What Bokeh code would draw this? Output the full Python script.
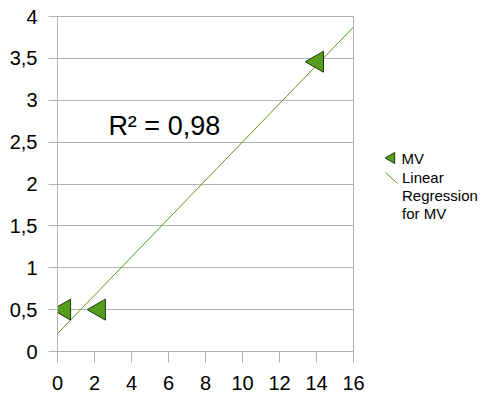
import numpy as np
from bokeh.plotting import figure
from bokeh.layouts import row
from bokeh.models import FixedTicker, Label, Range1d
from bokeh.core.properties import value
from bokeh.embed import file_html
from bokeh.resources import INLINE

# data
mv_x = [0.38, 2.26, 14.05]
mv_y = [0.5, 0.5, 3.46]

x_ticks = [0, 2, 4, 6, 8, 10, 12, 14, 16]
y_ticks = [0, 0.5, 1, 1.5, 2, 2.5, 3, 3.5, 4]
y_labels = ["0", "0,5", "1", "1,5", "2", "2,5", "3", "3,5", "4"]

series_name = "MV"
reg_name_lines = ["Linear", "Regression", "for MV"]

GREEN = "#579d1c"
EDGE = "#1e3a08"
GRID = "#b3b3b3"
FONT = "Liberation Sans"

# linear regression
slope, intercept = np.polyfit(mv_x, mv_y, 1)
pred = slope * np.array(mv_x) + intercept
r2 = 1 - np.sum((np.array(mv_y) - pred) ** 2) / np.sum((np.array(mv_y) - np.mean(mv_y)) ** 2)
reg_x = [x_ticks[0], x_ticks[-1]]
reg_y = [slope * v + intercept for v in reg_x]

MAIN_W, H = 372, 394
TOP, BOTTOM = 16, 351
p = figure(width=MAIN_W, height=H, output_backend="svg",
           toolbar_location=None, x_range=Range1d(0, 16), y_range=Range1d(0, 4),
           min_border_left=57, min_border_top=TOP, min_border_bottom=H - BOTTOM,
           min_border_right=MAIN_W - 353)
p.outline_line_color = GRID
p.outline_line_width = 1

p.xgrid.visible = False
p.ygrid.grid_line_color = GRID
p.ygrid.ticker = FixedTicker(ticks=y_ticks)

for ax in (p.xaxis, p.yaxis):
    ax.axis_line_color = GRID
    ax.major_tick_line_color = GRID
    ax.major_tick_in = 0
    ax.minor_tick_line_color = None
    ax.major_label_text_font = FONT
    ax.major_label_text_font_size = "20px"
    ax.major_label_text_color = "#000000"
p.xaxis.major_tick_out = 11
p.xaxis.major_label_standoff = 13
p.yaxis.major_tick_out = 9
p.yaxis.major_label_standoff = 11

p.xaxis.ticker = FixedTicker(ticks=x_ticks)
p.yaxis.ticker = FixedTicker(ticks=y_ticks)
p.yaxis.major_label_overrides = {t: l for t, l in zip(y_ticks, y_labels)}
p.xaxis.major_label_overrides = {t: str(t) for t in x_ticks}

p.line(reg_x, reg_y, line_color=GREEN, line_width=1)
p.scatter(mv_x, mv_y, marker="triangle", size=21, angle=np.pi / 2,
          fill_color=GREEN, line_color=EDGE, line_width=1)

r2_text = "R² = " + f"{r2:.2f}".replace(".", ",")
p.add_layout(Label(x=2.75, y=2.69, text=r2_text, text_font=FONT,
                   text_font_size="27px", text_color="#000000",
                   text_baseline="middle"))

# legend panel (its frame is aligned with the main frame; page-pixel coordinates)
lg = figure(width=484 - MAIN_W, height=H, output_backend="svg",
            toolbar_location=None, x_range=Range1d(MAIN_W, 484),
            y_range=Range1d(BOTTOM, TOP), x_axis_type=None, y_axis_type=None,
            min_border_left=0, min_border_right=0,
            min_border_top=TOP, min_border_bottom=H - BOTTOM)
lg.outline_line_color = None
lg.grid.visible = False
lg.scatter([391], [157.5], marker="triangle", size=11, angle=np.pi / 2,
           fill_color=GREEN, line_color=EDGE, line_width=1)
lg.line([385, 397], [172, 183], line_color=GREEN, line_width=1)
lg.text([401], [158], text=[series_name], text_font=value(FONT),
        text_font_size="15px", text_baseline="middle", text_color="#000000")
lg.text([401.5] * 3, [177, 195, 213], text=reg_name_lines,
        text_font=value(FONT), text_font_size="15px",
        text_baseline="middle", text_color="#000000")

layout = row(p, lg, spacing=0)
open("out.html", "w").write(file_html(layout, INLINE))
